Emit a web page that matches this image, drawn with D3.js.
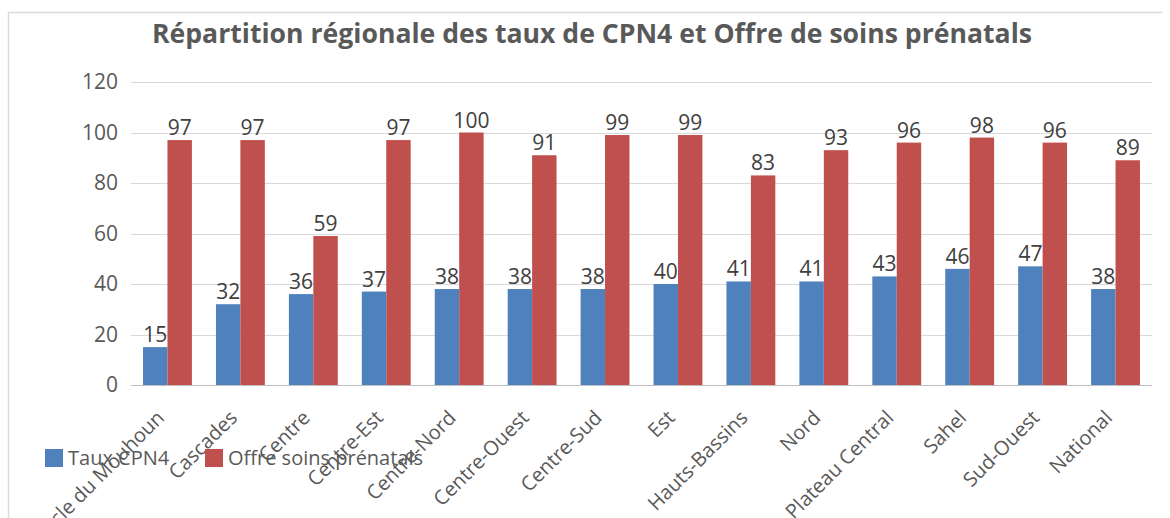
<!DOCTYPE html>
<html>
<head>
<meta charset="utf-8">
<script src="https://cdn.jsdelivr.net/npm/d3@7"></script>
<style>
  body{margin:0;background:#fff;}
  text{font-family:"Open Sans",sans-serif;}
</style>
</head>
<body>
<div id="chart"></div>
<script>
const W=1170,H=518;
const margin={top:82,right:18,bottom:133,left:131};

// data
const regions=["Boucle du Mouhoun","Cascades","Centre","Centre-Est","Centre-Nord","Centre-Ouest","Centre-Sud","Est","Hauts-Bassins","Nord","Plateau Central","Sahel","Sud-Ouest","National"];
const tauxCPN4=[15,32,36,37,38,38,38,40,41,41,43,46,47,38];
const offreSoins=[97,97,59,97,100,91,99,99,83,93,96,98,96,89];
const seriesNames=["Taux CPN4","Offre soins prénatals"];
const seriesColors=["#4F81BD","#C0504D"];
const yTicks=[0,20,40,60,80,100,120];

const data=regions.map((r,i)=>({region:r,values:[tauxCPN4[i],offreSoins[i]]}));

const svg=d3.select("#chart").append("svg")
    .attr("width",W).attr("height",H);

// chart frame (cropped)
svg.append("line").attr("x1",8).attr("x2",1162).attr("y1",12.5).attr("y2",12.5)
    .attr("stroke","#d9d9d9").attr("stroke-width",1.5);
svg.append("line").attr("x1",8.5).attr("x2",8.5).attr("y1",12).attr("y2",H)
    .attr("stroke","#d9d9d9").attr("stroke-width",1.5);

const x=d3.scaleBand()
    .domain(regions)
    .range([margin.left,W-margin.right])
    .paddingInner(0.33)
    .paddingOuter(0.165);
const xs=d3.scaleBand().domain([0,1]).range([0,x.bandwidth()]);
const y=d3.scaleLinear().domain([0,120]).range([H-margin.bottom,margin.top]);

// title, fitted to its width in the reference
const title=svg.append("text")
    .attr("x",592).attr("y",43)
    .attr("text-anchor","middle")
    .attr("fill","#595959")
    .style("font-weight","700")
    .style("font-size","24px")
    .text("Répartition régionale des taux de CPN4 et Offre de soins prénatals");
const tw=title.node().getComputedTextLength();
title.style("font-size",(24*880/tw).toFixed(2)+"px");

// gridlines
svg.append("g").selectAll("line")
    .data(yTicks)
    .join("line")
    .attr("x1",margin.left).attr("x2",W-margin.right)
    .attr("y1",d=>Math.round(y(d))+0.5).attr("y2",d=>Math.round(y(d))+0.5)
    .attr("stroke",d=>d===0?"#bfbfbf":"#d9d9d9")
    .attr("stroke-width",1);

// y axis labels
const yAxis=svg.append("g")
    .attr("transform",`translate(${margin.left},0)`)
    .call(d3.axisLeft(y).tickValues(yTicks).tickSize(0).tickPadding(13));
yAxis.select(".domain").remove();
yAxis.selectAll("text")
    .attr("fill","#595959")
    .style("font-size","21px")
    .style("font-family","'Open Sans',sans-serif");

// bars
const groups=svg.append("g").selectAll("g")
    .data(data)
    .join("g")
    .attr("transform",d=>`translate(${x(d.region)},0)`);
groups.selectAll("rect")
    .data(d=>d.values.map((v,k)=>({k:k,v:v})))
    .join("rect")
    .attr("x",d=>xs(d.k))
    .attr("y",d=>y(d.v))
    .attr("width",xs.bandwidth())
    .attr("height",d=>y(0)-y(d.v))
    .attr("fill",d=>seriesColors[d.k]);
groups.selectAll("text")
    .data(d=>d.values.map((v,k)=>({k:k,v:v})))
    .join("text")
    .attr("x",d=>xs(d.k)+xs.bandwidth()/2)
    .attr("y",d=>y(d.v)-5)
    .attr("text-anchor","middle")
    .attr("fill","#404040")
    .style("font-size","21px")
    .text(d=>d.v);

// x axis labels, rotated
const xAxis=svg.append("g")
    .attr("transform",`translate(0,${y(0)})`)
    .call(d3.axisBottom(x).tickSize(0).tickPadding(0));
xAxis.select(".domain").remove();
xAxis.selectAll("text")
    .attr("fill","#595959")
    .style("font-size","20px")
    .style("font-family","'Open Sans',sans-serif")
    .attr("text-anchor","end")
    .attr("dy","0")
    .attr("transform","translate(-2,34) rotate(-45)");

// legend
const legend=svg.append("g").selectAll("g")
    .data(seriesNames)
    .join("g")
    .attr("transform",(d,i)=>`translate(${i===0?45:205},449)`);
legend.append("rect")
    .attr("width",18).attr("height",18)
    .attr("fill",(d,i)=>seriesColors[i]);
legend.append("text")
    .attr("x",23).attr("y",16)
    .attr("fill","#595959")
    .style("font-size","20px")
    .text(d=>d);
</script>
</body>
</html>
